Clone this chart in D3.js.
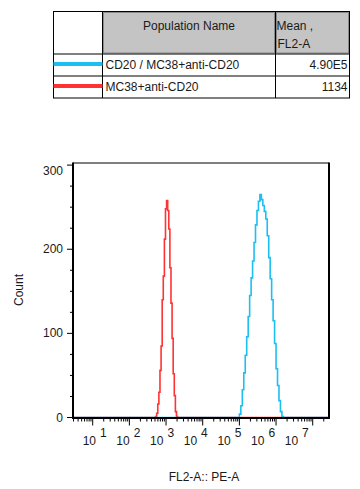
<!DOCTYPE html>
<html>
<head>
<meta charset="utf-8">
<script src="https://cdn.jsdelivr.net/npm/d3@7"></script>
<style>
  body { margin: 0; background: #fff; }
  svg { display: block; font-family: 'Liberation Sans', Arial, sans-serif; }
  text { fill: #1a1a1a; }
</style>
</head>
<body>
<svg></svg>
<script>
const WIDTH = 360;
const HEIGHT = 489;

// Populations shown in the legend table.
const populations = ['CD20 / MC38+anti-CD20', 'MC38+anti-CD20'];
const means = ['4.90E5', '1134'];
const popColors = ['#1cbff2', '#ff3333'];

// Histogram bins: log10 of FL2-A and count.
const redLog = [2.70, 2.73, 2.76, 2.79, 2.82, 2.85, 2.88, 2.91, 2.94, 2.97, 3.00,
  3.03, 3.06, 3.09, 3.12, 3.15, 3.18, 3.21, 3.24, 3.27, 3.30, 3.33];
const redCount = [0, 1, 5, 16, 30, 56, 85, 140, 168, 212, 248,
  258, 246, 224, 178, 136, 94, 52, 26, 7, 1, 0];

const blueLog = [4.98, 5.02, 5.06, 5.10, 5.14, 5.18, 5.22, 5.26, 5.30, 5.34, 5.38,
  5.42, 5.46, 5.50, 5.54, 5.58, 5.62, 5.66, 5.70, 5.74, 5.78, 5.82, 5.86, 5.90,
  5.94, 5.98, 6.02, 6.06, 6.10, 6.14, 6.18, 6.22];
const blueCount = [0, 4, 14, 33, 53, 74, 96, 120, 145, 166, 186,
  208, 229, 246, 257, 265, 259, 252, 245, 236, 216, 190, 165, 140,
  115, 88, 58, 38, 20, 7, 1, 0];

// Axis ticks.
const yMajor = [0, 100, 200, 300];
const yMinor = [25, 50, 75, 125, 150, 175, 225, 250, 275];
const xExponents = [1, 2, 3, 4, 5, 6, 7];

const svg = d3.select('svg')
  .attr('width', WIDTH)
  .attr('height', HEIGHT)
  .attr('viewBox', `0 0 ${WIDTH} ${HEIGHT}`);

// ---- Legend table ----
const T = {left: 53.5, right: 349.5, top: 11.5, head: 54, col1: 102.5, col2: 275.5};
const rowH = 22;
const table = svg.append('g');

// gray header cells
table.append('rect')
  .attr('x', T.col1 + 1).attr('y', T.top + 1)
  .attr('width', T.col2 - T.col1 - 2).attr('height', T.head - T.top - 2)
  .attr('fill', '#c4c4c4').attr('stroke', '#8a8a8a');
table.append('rect')
  .attr('x', T.col2 + 1).attr('y', T.top + 1)
  .attr('width', T.right - T.col2 - 2).attr('height', T.head - T.top - 2)
  .attr('fill', '#c4c4c4').attr('stroke', '#8a8a8a');

// grid lines
table.append('rect')
  .attr('x', T.left).attr('y', T.top)
  .attr('width', T.right - T.left).attr('height', T.head - T.top + rowH * 2)
  .attr('fill', 'none').attr('stroke', '#000');
[T.head, T.head + rowH].forEach(y => {
  table.append('line')
    .attr('x1', T.left).attr('x2', T.right).attr('y1', y).attr('y2', y)
    .attr('stroke', '#000');
});
[T.col1, T.col2].forEach(x => {
  table.append('line')
    .attr('x1', x).attr('x2', x).attr('y1', T.top).attr('y2', T.head + rowH * 2)
    .attr('stroke', '#000');
});

table.append('text')
  .attr('x', (T.col1 + T.col2) / 2).attr('y', 30)
  .attr('text-anchor', 'middle').attr('font-size', 12)
  .text('Population Name');
table.append('text').attr('x', T.col2 + 1).attr('y', 30).attr('font-size', 12).text('Mean ,');
table.append('text').attr('x', T.col2 + 2).attr('y', 48).attr('font-size', 12).text('FL2-A');

populations.forEach((name, i) => {
  const cy = T.head + rowH * i + rowH / 2;
  table.append('line')
    .attr('x1', T.left).attr('x2', T.col1).attr('y1', cy - 1).attr('y2', cy - 1)
    .attr('stroke', popColors[i]).attr('stroke-width', 4);
  table.append('text')
    .attr('x', T.col1 + 3).attr('y', cy + 4).attr('font-size', 12).text(name);
  table.append('text')
    .attr('x', T.right - 2).attr('y', cy + 4).attr('text-anchor', 'end')
    .attr('font-size', 12).text(means[i]);
});

// ---- Histogram ----
const P = {left: 73, right: 329, top: 163, bottom: 417.5};

const x = d3.scaleLog()
  .domain([Math.pow(10, 0.463), Math.pow(10, 7.444)])
  .range([P.left, P.right]);
const y = d3.scaleLinear()
  .domain([0, 302.5])
  .range([P.bottom, P.top]);

const line = d3.line()
  .x(d => x(Math.pow(10, d[0])))
  .y(d => y(d[1]))
  .curve(d3.curveStep);

function series(logs, counts) {
  const [lo, hi] = x.domain().map(Math.log10);
  return [[lo, 0], ...logs.map((l, i) => [l, counts[i]]), [hi, 0]];
}

svg.append('path')
  .datum(series(redLog, redCount))
  .attr('d', line)
  .attr('fill', 'none').attr('stroke', popColors[1]).attr('stroke-width', 1.6);
svg.append('path')
  .datum(series(blueLog, blueCount))
  .attr('d', line)
  .attr('fill', 'none').attr('stroke', popColors[0]).attr('stroke-width', 1.6);

// frame
svg.append('line')
  .attr('x1', P.left).attr('x2', P.right).attr('y1', P.top).attr('y2', P.top)
  .attr('stroke', '#000').attr('stroke-width', 1);
svg.append('line')
  .attr('x1', P.right).attr('x2', P.right).attr('y1', P.top - 0.5).attr('y2', P.bottom + 1)
  .attr('stroke', '#000').attr('stroke-width', 2);
svg.append('line')
  .attr('x1', P.left).attr('x2', P.left).attr('y1', P.top - 0.5).attr('y2', P.bottom + 1)
  .attr('stroke', '#000').attr('stroke-width', 2);
svg.append('line')
  .attr('x1', P.left - 1).attr('x2', P.right + 1).attr('y1', P.bottom + 0.5).attr('y2', P.bottom + 0.5)
  .attr('stroke', '#000').attr('stroke-width', 2);

// y ticks
const yAxis = svg.append('g');
yAxis.selectAll('.major').data(yMajor).enter().append('line')
  .attr('x1', P.left - 6).attr('x2', P.left)
  .attr('y1', d => y(d)).attr('y2', d => y(d))
  .attr('stroke', '#000');
yAxis.selectAll('.minor').data(yMinor).enter().append('line')
  .attr('x1', P.left - 3).attr('x2', P.left)
  .attr('y1', d => y(d)).attr('y2', d => y(d))
  .attr('stroke', '#000');
yAxis.selectAll('text').data(yMajor).enter().append('text')
  .attr('x', P.left - 10)
  .attr('y', d => Math.max(y(d), P.top + 8) + 4)
  .attr('text-anchor', 'end').attr('font-size', 12)
  .text(d => d);

// x ticks: decades plus 2..9 minors
const [dLo, dHi] = x.domain();
const xMinor = [];
for (let e = 0; e <= 7; e++) {
  for (let m = 2; m <= 9; m++) {
    const v = m * Math.pow(10, e);
    if (v > dLo && v < dHi) xMinor.push(v);
  }
}
const xAxis = svg.append('g');
xAxis.selectAll('.minor').data(xMinor).enter().append('line')
  .attr('x1', d => x(d)).attr('x2', d => x(d))
  .attr('y1', P.bottom + 1).attr('y2', P.bottom + 4)
  .attr('stroke', '#000');
xAxis.selectAll('.major').data(xExponents).enter().append('line')
  .attr('x1', d => x(Math.pow(10, d))).attr('x2', d => x(Math.pow(10, d)))
  .attr('y1', P.bottom + 1).attr('y2', P.bottom + 8)
  .attr('stroke', '#000');

// FlowJo draws its decade labels slightly compressed relative to the ticks
const labelX = d3.scaleLinear()
  .domain([1, 7])
  .range([x(10) - 10, x(1e7) - 28]);
const lbl = xAxis.selectAll('text').data(xExponents).enter().append('text')
  .attr('x', d => labelX(d)).attr('y', 445).attr('font-size', 12);
lbl.append('tspan').text('10');
lbl.append('tspan').attr('dx', 4).attr('dy', -8).text(d => d);

// axis titles
svg.append('text')
  .attr('transform', 'translate(23,290) rotate(-90)')
  .attr('text-anchor', 'middle').attr('font-size', 12)
  .text('Count');
svg.append('text')
  .attr('x', 204).attr('y', 481)
  .attr('text-anchor', 'middle').attr('font-size', 12)
  .text('FL2-A:: PE-A');
</script>
</body>
</html>
